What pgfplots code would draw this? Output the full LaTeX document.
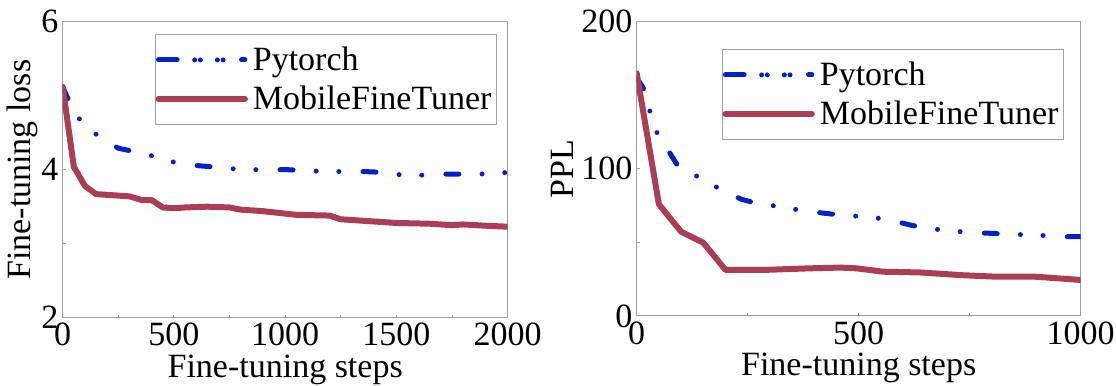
\documentclass[border=0pt]{standalone}
\usepackage{fontspec}
\setmainfont{Liberation Serif}
\usepackage{pgfplots}
\pgfplotsset{compat=1.18}
\definecolor{ptblue}{RGB}{0,32,200}
\definecolor{mftred}{RGB}{170,62,84}
\definecolor{axgray}{RGB}{160,160,160}

\pgfplotsset{
  panel/.style={
    scale only axis, anchor=south west,
    axis line style={axgray, line width=0.5pt},
    every tick/.style={axgray, line width=0.5pt},
    major tick length=1.5pt, minor tick length=1.5pt,
    tick align=inside, tick pos=left,
    ticklabel style={font=\fontsize{17}{17}\selectfont, inner sep=0pt},
    xticklabel style={yshift=-2.5pt},
    yticklabel style={xshift=-2pt},
    /pgf/number format/assume math mode=true,
    /pgf/number format/1000 sep={},
    label style={font=\fontsize{17}{17}\selectfont, inner sep=0pt},
    xlabel style={at={(axis description cs:0.5,0)}, anchor=north, yshift=-18.5pt},
    ylabel style={anchor=south},
    legend cell align=left,
    legend style={anchor=north west, draw=axgray, line width=0.5pt,
      font=\fontsize{17}{17}\selectfont, inner xsep=0pt, inner ysep=3pt,
      row sep=0.2pt, nodes={inner xsep=2.5pt, inner ysep=3pt}},
    legend image code/.code={
      \path (0pt,0pt) -- (43.2pt,0pt);
      \draw[#1] (2.85pt,0pt) -- (40.35pt,0pt);},
  },
  pytorch/.style={ptblue, line width=2.5pt, line cap=round, line join=round,
    dash pattern=on 6.5pt off 11.6pt on 0pt off 11.35pt on 0pt off 12.1pt},
  mft/.style={mftred, line width=3pt, line cap=round, line join=round},
}

\begin{document}
\begin{tikzpicture}
% left: fine-tuning loss
\begin{axis}[panel, at={(31.35pt,34.15pt)}, width=222.5pt, height=148pt,
  xmin=0, xmax=2000, ymin=2, ymax=6,
  xtick={0,500,1000,1500,2000}, minor xtick={250,750,1250,1750},
  ytick={2,4,6}, minor ytick={3,5},
  xlabel={Fine-tuning steps}, ylabel={Fine-tuning loss},
  ylabel style={at={(axis description cs:-0.054,0.5)}},
  legend style={at={(axis description cs:0.2074,0.958)}}]
\addplot[pytorch] coordinates {
  (0,5.12) (25,4.95) (80,4.66) (165,4.44) (250,4.29) (330,4.24) (425,4.17)
  (525,4.08) (625,4.05) (710,4.03) (805,4.00) (910,4.00) (1010,4.00)
  (1100,3.99) (1190,3.97) (1300,3.98) (1400,3.97) (1480,3.94) (1580,3.92)
  (1685,3.94) (1785,3.94) (1870,3.94) (1965,3.96) (2000,3.96)};
\addlegendentry{Pytorch}
\addplot[mft] coordinates {
  (0,5.12) (50,4.04) (100,3.78) (150,3.67) (300,3.64) (355,3.59) (400,3.59)
  (450,3.49) (500,3.48) (550,3.49) (650,3.50) (750,3.49) (800,3.46)
  (900,3.44) (1050,3.39) (1200,3.38) (1250,3.33) (1400,3.30) (1500,3.28)
  (1650,3.27) (1750,3.25) (1800,3.26) (1920,3.24) (2000,3.23)};
\addlegendentry{MobileFineTuner}
\end{axis}
% right: perplexity
\begin{axis}[panel, at={(318.35pt,35pt)}, width=222pt, height=147.15pt,
  xmin=0, xmax=1000, ymin=0, ymax=200,
  xtick={0,500,1000}, minor xtick={250,750},
  ytick={0,100,200}, minor ytick={50,150},
  xlabel={Fine-tuning steps}, ylabel={PPL},
  ylabel style={at={(axis description cs:-0.142,0.5)}},
  legend style={at={(axis description cs:0.192,0.907)}}]
\addplot[pytorch] coordinates {
  (0,162) (15,154.7) (30,138.9) (47,123.5) (75,110.6) (90,103.3)
  (143,93.6) (189,86.1) (236,79.3) (270,76.6) (323,74.3) (374,71.6)
  (424,69.8) (464,68.4) (514,67.5) (565,65.7) (615,61.9) (653,59.6)
  (703,58.0) (757,56.6) (807,56.1) (845,55.4) (895,55.2) (948,53.9)
  (1000,53.9)};
\addlegendentry{Pytorch}
\addplot[mft] coordinates {
  (0,165) (50,75.9) (100,57.3) (150,49.8) (200,31.3) (285,31.3) (390,32.4)
  (458,32.9) (495,32.4) (555,30.1) (638,29.6) (735,27.7) (803,26.8)
  (893,26.8) (1000,24.5)};
\addlegendentry{MobileFineTuner}
\end{axis}
\pgfresetboundingbox
\path (0pt,0pt) rectangle (558pt,193pt);
\end{tikzpicture}
\end{document}
